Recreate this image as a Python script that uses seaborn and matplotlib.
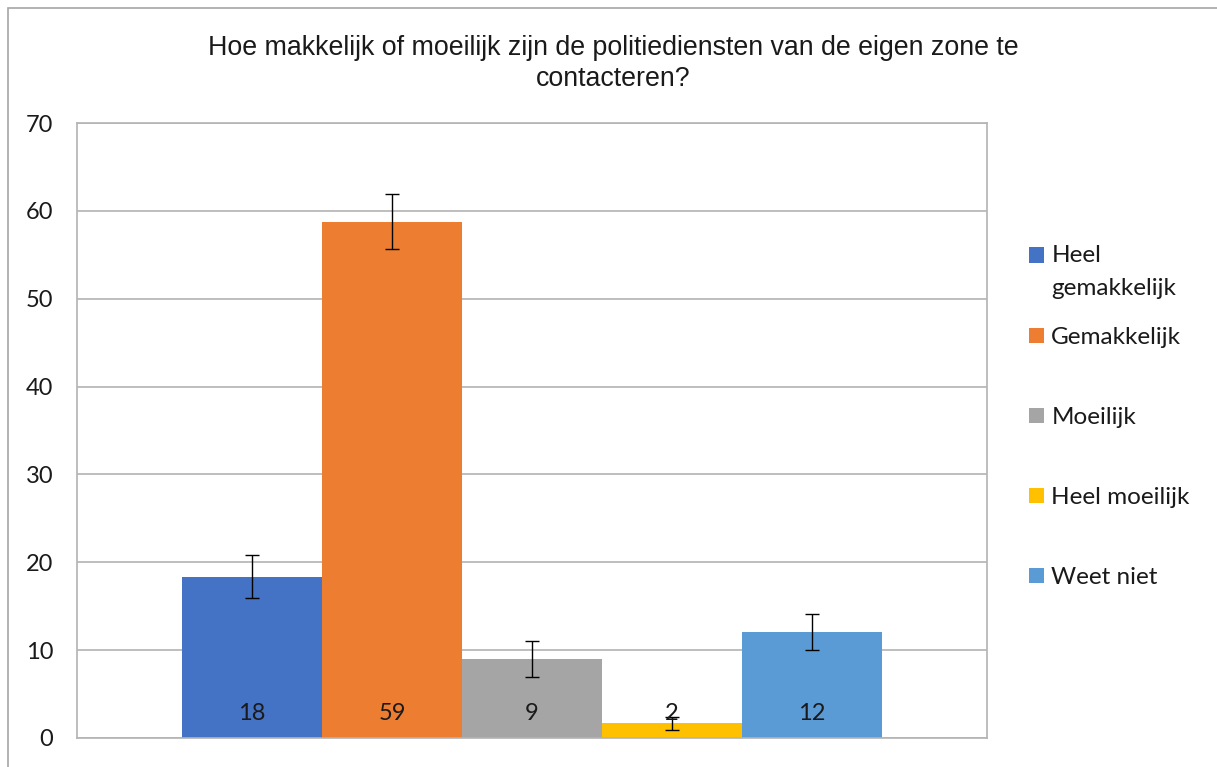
import matplotlib
matplotlib.use("Agg")
import matplotlib.pyplot as plt
import seaborn as sns
import pandas as pd
from matplotlib.patches import Rectangle

# Survey answers (percent) with their error margins
categories = ["Heel gemakkelijk", "Gemakkelijk", "Moeilijk", "Heel moeilijk", "Weet niet"]
legend_labels = ["Heel\ngemakkelijk", "Gemakkelijk", "Moeilijk", "Heel moeilijk", "Weet niet"]
values = [18.36, 58.77, 9.0, 1.67, 12.03]
errors = [2.42, 3.13, 2.0, 0.75, 2.05]
colors = ["#4472C4", "#ED7D31", "#A5A5A5", "#FFC000", "#5B9BD5"]
title = "Hoe makkelijk of moeilijk zijn de politiediensten van de eigen zone te\ncontacteren?"
yticks = [0, 10, 20, 30, 40, 50, 60, 70]

df = pd.DataFrame({"groep": [""] * len(categories), "antwoord": categories, "pct": values})

sns.set_theme(style="white")
plt.rcParams["font.family"] = ["Lato", "DejaVu Sans"]

W, H = 1217, 767
TXT = "#1a1a1a"
fig = plt.figure(figsize=(W / 100, H / 100), dpi=100)
ax = fig.add_axes([77 / W, 1 - 738 / H, (987 - 77) / W, (738 - 123) / H])

sns.barplot(data=df, x="groep", y="pct", hue="antwoord", hue_order=categories,
            palette=colors, width=700 / 910, errorbar=None, saturation=1,
            linewidth=0, legend=False, ax=ax)

bars = list(ax.patches)[:len(categories)]
for bar, v, e in zip(bars, values, errors):
    cx = bar.get_x() + bar.get_width() / 2
    ax.errorbar(cx, v, yerr=e, fmt="none", ecolor="black", elinewidth=1.0,
                capsize=4.7, capthick=1.0, zorder=5)
    ax.annotate(f"{v:.0f}", xy=(cx, 0), xytext=(0, 13), textcoords="offset points",
                ha="center", va="baseline", fontsize=17, color=TXT, zorder=6)

ax.set_xlim(-0.5, 0.5)
ax.set_ylim(0, 70)
ax.set_yticks(yticks)
ax.set_xticks([])
ax.set_xlabel("")
ax.set_ylabel("")
ax.tick_params(axis="y", length=0, pad=17, labelsize=17, labelcolor=TXT)
ax.yaxis.grid(True, color="#b3b3b3", linewidth=1.2)
ax.set_axisbelow(True)
for side in ["left", "top", "right", "bottom"]:
    ax.spines[side].set_visible(True)
    ax.spines[side].set_color("#b3b3b3")
    ax.spines[side].set_linewidth(1.2)

# Legend on the right: the wrapped first entry sits in its own legend box
handles = [Rectangle((0, 0), 1, 1, facecolor=c, edgecolor="none") for c in colors]
leg_kw = dict(frameon=False, fontsize=17.5, handlelength=0.62, handleheight=0.58,
              handletextpad=0.3, labelcolor=TXT, borderpad=0, borderaxespad=0)
leg_top = fig.legend(handles[:1], legend_labels[:1], loc="center left",
                     bbox_to_anchor=(1029 / W, 1 - 272 / H), **leg_kw)
leg_top.get_texts()[0].set_linespacing(1.75)
first_handle = leg_top.legend_handles[0]
first_handle.set_y(first_handle.get_y() + 12.2)
fig.legend(handles[1:], legend_labels[1:], loc="upper left",
           bbox_to_anchor=(1029 / W, 1 - 327 / H), labelspacing=2.43, **leg_kw)

fig.text(613 / W, 1 - 63.5 / H, title, ha="center", va="center", fontsize=19.3,
         family=["Liberation Sans", "DejaVu Sans"], color=TXT, linespacing=1.26)

# Outer chart frame
fig.patches.append(Rectangle((8 / W, -0.1), 1.2, 1 - 8 / H + 0.1, transform=fig.transFigure,
                             fill=False, edgecolor="#a6a6a6", linewidth=1.2))

fig.savefig("out.png", dpi=100)
